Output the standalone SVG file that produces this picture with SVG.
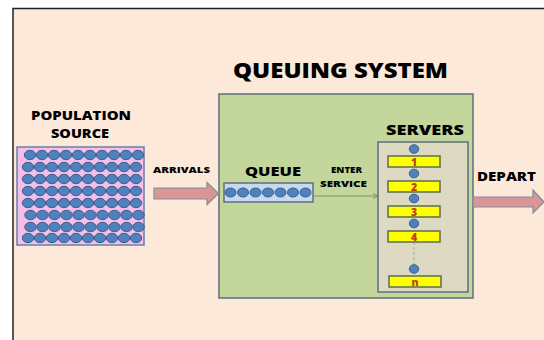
<svg xmlns="http://www.w3.org/2000/svg" width="544" height="340" viewBox="0 0 544 340">
<defs>
<style>
.t{font-family:"Open Sans","Liberation Sans",sans-serif;font-weight:800;fill:#000}
.dot{fill:#4f81bd;stroke:#3a5f8e;stroke-width:1}
.srv{fill:#ffff00;stroke:#5a6e50;stroke-width:1.5}
.num{font-family:"Open Sans","Liberation Sans",sans-serif;font-weight:800;fill:#c0420f;font-size:10.5px;text-anchor:middle}
.box{stroke:#5d6f7e;stroke-width:1.5}
.arr{fill:#d99694;stroke:#7f8ea0;stroke-width:1.2}
</style>
<marker id="ah" markerWidth="6" markerHeight="6" refX="5" refY="3" orient="auto" markerUnits="userSpaceOnUse">
<path d="M0,0.5 L5,3 L0,5.5" fill="none" stroke="#6f7f60" stroke-width="0.8"/>
</marker>
<g id="row">
<ellipse class="dot" cx="29" cy="155" rx="5.7" ry="4.7"/><ellipse class="dot" cx="41" cy="155" rx="5.7" ry="4.7"/><ellipse class="dot" cx="53" cy="155" rx="5.7" ry="4.7"/><ellipse class="dot" cx="65" cy="155" rx="5.7" ry="4.7"/><ellipse class="dot" cx="77" cy="155" rx="5.7" ry="4.7"/><ellipse class="dot" cx="89" cy="155" rx="5.7" ry="4.7"/><ellipse class="dot" cx="101" cy="155" rx="5.7" ry="4.7"/><ellipse class="dot" cx="113" cy="155" rx="5.7" ry="4.7"/><ellipse class="dot" cx="125" cy="155" rx="5.7" ry="4.7"/><ellipse class="dot" cx="137" cy="155" rx="5.7" ry="4.7"/>
</g>
</defs>
<rect x="0" y="0" width="544" height="340" fill="#ffffff"/>
<rect x="13" y="8.5" width="540" height="340" fill="#fde9d9" stroke="#222" stroke-width="1.5"/>
<text class="t" x="233" y="78" font-size="21" textLength="215" lengthAdjust="spacingAndGlyphs">QUEUING  SYSTEM</text>

<g id="population-source">
<text class="t" x="31" y="120" font-size="12.5" textLength="100" lengthAdjust="spacingAndGlyphs">POPULATION</text>
<text class="t" x="51" y="138" font-size="12.5" textLength="58" lengthAdjust="spacingAndGlyphs">SOURCE</text>
<rect x="17" y="147" width="127" height="98" fill="#f5bfe9" stroke="#6b7fa8" stroke-width="1.5"/>
<use href="#row" transform="translate(1,0)"/>
<use href="#row" transform="translate(-1,12)"/>
<use href="#row" transform="translate(-1,24)"/>
<use href="#row" transform="translate(-1,36)"/>
<use href="#row" transform="translate(-1,48)"/>
<use href="#row" transform="translate(1.5,60)"/>
<use href="#row" transform="translate(1.5,72)"/>
<use href="#row" transform="translate(-1,83)"/>
</g>

<g id="queuing-system">
<rect class="box" x="219" y="94" width="254" height="204" fill="#c3d69b"/>
</g>

<g id="queue">
<text class="t" x="245" y="176" font-size="13" textLength="56" lengthAdjust="spacingAndGlyphs">QUEUE</text>
<rect x="224" y="183" width="89" height="19" fill="#c6d9f1" stroke="#5d6f7e" stroke-width="1.5"/>
<ellipse class="dot" cx="230.5" cy="192.5" rx="5.5" ry="4.5"/>
<ellipse class="dot" cx="243" cy="192.5" rx="5.5" ry="4.5"/>
<ellipse class="dot" cx="255.5" cy="192.5" rx="5.5" ry="4.5"/>
<ellipse class="dot" cx="268" cy="192.5" rx="5.5" ry="4.5"/>
<ellipse class="dot" cx="280.5" cy="192.5" rx="5.5" ry="4.5"/>
<ellipse class="dot" cx="293" cy="192.5" rx="5.5" ry="4.5"/>
<ellipse class="dot" cx="305.5" cy="192.5" rx="5.5" ry="4.5"/>
</g>

<g id="servers">
<text class="t" x="386" y="135" font-size="14" textLength="78" lengthAdjust="spacingAndGlyphs">SERVERS</text>
<rect class="box" x="378" y="142" width="90" height="150" fill="#ddd9c3"/>
<line x1="414" y1="242" x2="414" y2="265" stroke="#a8a8a8" stroke-width="1" stroke-dasharray="3,2"/>
<ellipse class="dot" cx="414" cy="149" rx="4.7" ry="4.3"/>
<rect class="srv" x="388" y="156" width="52" height="11"/>
<text class="num" x="414" y="165.5">1</text>
<ellipse class="dot" cx="414" cy="173.5" rx="4.7" ry="4.3"/>
<rect class="srv" x="388" y="181" width="52" height="11"/>
<text class="num" x="414" y="190.5">2</text>
<ellipse class="dot" cx="414" cy="198.5" rx="4.7" ry="4.3"/>
<rect class="srv" x="388" y="206" width="52" height="11"/>
<text class="num" x="414" y="215.5">3</text>
<ellipse class="dot" cx="414" cy="223.5" rx="4.7" ry="4.3"/>
<rect class="srv" x="388" y="231" width="52" height="11"/>
<text class="num" x="414" y="240.5">4</text>
<ellipse class="dot" cx="414" cy="269" rx="4.7" ry="4.3"/>
<rect class="srv" x="389" y="276" width="52" height="11"/>
<text class="num" x="415" y="285.5">n</text>
</g>

<g id="connectors">
<polygon class="arr" points="154,188 207,188 207,182.5 218.5,193.5 207,204.5 207,199 154,199"/>
<text class="t" x="153" y="173" font-size="8.5" textLength="57" lengthAdjust="spacingAndGlyphs">ARRIVALS</text>
<line x1="313" y1="196" x2="378" y2="196" stroke="#6f7f60" stroke-width="0.8" marker-end="url(#ah)"/>
<text class="t" x="331" y="173" font-size="8.5" textLength="31" lengthAdjust="spacingAndGlyphs">ENTER</text>
<text class="t" x="320" y="187" font-size="8.5" textLength="47" lengthAdjust="spacingAndGlyphs">SERVICE</text>
<polygon class="arr" points="473,197 533,197 533,190 544,202 533,213 533,207 473,207"/>
<text class="t" x="477" y="181" font-size="12.5" textLength="59" lengthAdjust="spacingAndGlyphs">DEPART</text>
</g>
</svg>
